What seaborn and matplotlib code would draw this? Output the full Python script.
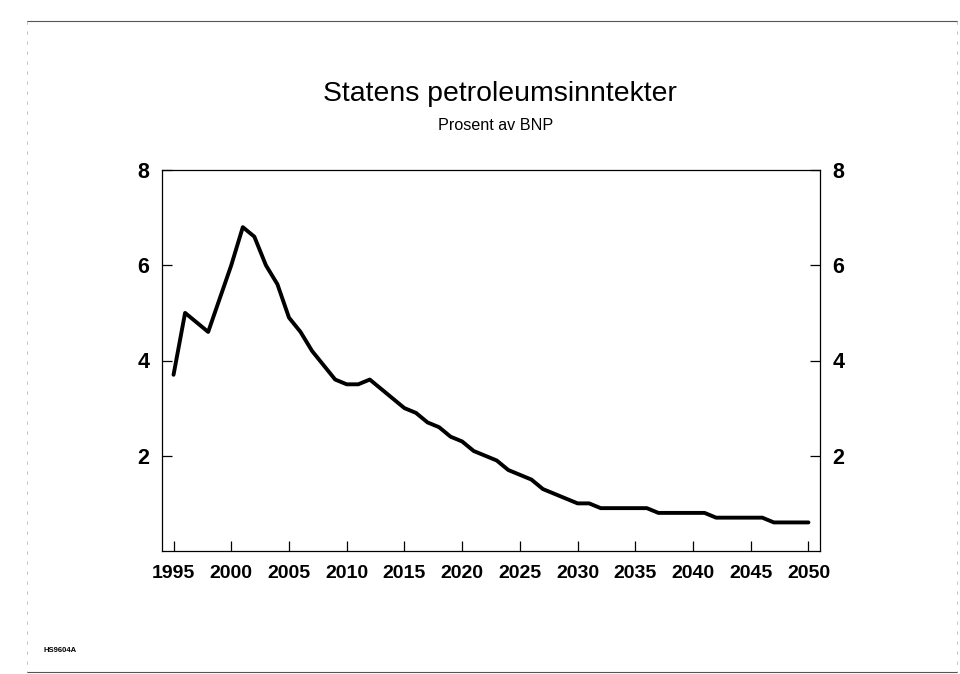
import matplotlib
matplotlib.use("Agg")
import matplotlib.pyplot as plt
import seaborn as sns
import pandas as pd

years = list(range(1995, 2051))
values = [3.7, 5.0, 4.8, 4.6, 5.3, 6.0, 6.8, 6.6, 6.0, 5.6,
          4.9, 4.6, 4.2, 3.9, 3.6, 3.5, 3.5, 3.6, 3.4, 3.2,
          3.0, 2.9, 2.7, 2.6, 2.4, 2.3, 2.1, 2.0, 1.9, 1.7,
          1.6, 1.5, 1.3, 1.2, 1.1, 1.0, 1.0, 0.9, 0.9, 0.9,
          0.9, 0.9, 0.8, 0.8, 0.8, 0.8, 0.8, 0.7, 0.7, 0.7,
          0.7, 0.7, 0.6, 0.6, 0.6, 0.6]
xticks = list(range(1995, 2051, 5))
yticks = [2, 4, 6, 8]
title = "Statens petroleumsinntekter"
subtitle = "Prosent av BNP"
code = "HS9604A"

sns.set_theme(style="white")
plt.rcParams['font.family'] = ['Liberation Sans', 'DejaVu Sans']
plt.rcParams['text.color'] = 'black'

df = pd.DataFrame({"year": years, "value": values})

fig = plt.figure(figsize=(9.6, 6.74), dpi=100)
ax = fig.add_axes([162/960, 1 - 551/674, (820-162)/960, (551-170)/674])
sns.lineplot(data=df, x="year", y="value", ax=ax, color="black", linewidth=2.8)

ax.set_xlim(1994.0, 2051.0)
ax.set_ylim(0, 8)
ax.set_xticks(xticks)
ax.set_yticks(yticks)
ax.set_xlabel("")
ax.set_ylabel("")
for s in ax.spines.values():
    s.set_visible(True)
    s.set_color("black")
    s.set_linewidth(0.9)
ax.tick_params(axis="both", direction="in", length=7, width=0.9, color="black",
               labelcolor="black")
ax.tick_params(axis="x", bottom=True, pad=10)
ax.tick_params(axis="y", right=True, labelright=True, left=True, labelleft=True, pad=9)

for t in ax.xaxis.get_major_ticks():
    t.label1.set_fontweight("bold")
    t.label1.set_fontsize(14)
for t in ax.yaxis.get_major_ticks():
    for lab in (t.label1, t.label2):
        lab.set_fontweight("bold")
        lab.set_fontsize(15.5)

fig.text(500/960, 1 - 94/674, title, ha="center", va="center", fontsize=20.4, color="black")
fig.text(496/960, 1 - 125/674, subtitle, ha="center", va="center", fontsize=11.6, color="black")
fig.text(43/960, 1 - 650/674, code, ha="left", va="center", fontsize=5.5, fontweight="bold", color="black")

# page frame
fig.add_artist(plt.Line2D([27/960, 957/960], [1 - 21/674, 1 - 21/674], color="#555555", lw=0.8, transform=fig.transFigure))
fig.add_artist(plt.Line2D([27/960, 957/960], [1 - 672/674, 1 - 672/674], color="#555555", lw=0.8, transform=fig.transFigure))
fig.add_artist(plt.Line2D([27/960, 27/960], [1 - 21/674, 1 - 672/674], color="#bbbbbb", lw=0.6, ls=(0, (4, 8)), transform=fig.transFigure))
fig.add_artist(plt.Line2D([957/960, 957/960], [1 - 21/674, 1 - 672/674], color="#bbbbbb", lw=0.6, ls=(0, (4, 8)), transform=fig.transFigure))

fig.savefig("out.png", dpi=100, facecolor="white")
